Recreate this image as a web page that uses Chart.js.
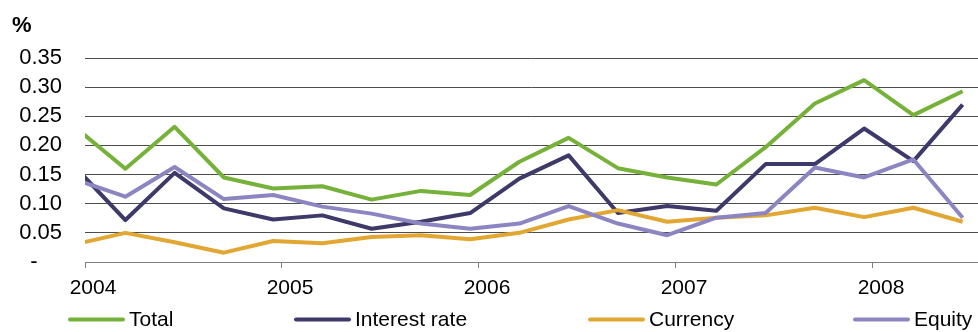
<!DOCTYPE html>
<html>
<head>
<meta charset="utf-8">
<script src="https://cdn.jsdelivr.net/npm/chart.js@4/dist/chart.umd.min.js"></script>
<style>
  html, body { margin: 0; padding: 0; background: #ffffff; }
  #wrap { width: 978px; height: 332px; }
</style>
</head>
<body>
<div id="wrap"><canvas id="c" width="978" height="332"></canvas></div>
<script>
// ---- data ----
const unitLabel = '%';
// quarterly observations, positioned in decimal years on the time axis
const periods = [2003.955, 2004.205, 2004.455, 2004.705, 2004.955, 2005.205, 2005.455, 2005.705,
                 2005.955, 2006.205, 2006.455, 2006.705, 2006.955, 2007.205, 2007.455, 2007.705,
                 2007.955, 2008.205, 2008.455];
const yearTicks = [2004, 2005, 2006, 2007, 2008];
const yTickValues = [0, 0.05, 0.10, 0.15, 0.20, 0.25, 0.30, 0.35];
const seriesNames = ['Total', 'Interest rate', 'Currency', 'Equity'];
const total    = [0.230, 0.160, 0.232, 0.145, 0.126, 0.130, 0.107, 0.122, 0.115, 0.172, 0.213, 0.161, 0.145, 0.133, 0.197, 0.272, 0.312, 0.252, 0.293];
const interest = [0.161, 0.072, 0.153, 0.092, 0.073, 0.080, 0.057, 0.069, 0.084, 0.143, 0.183, 0.084, 0.096, 0.088, 0.168, 0.168, 0.229, 0.173, 0.270];
const currency = [0.031, 0.050, 0.034, 0.016, 0.036, 0.032, 0.043, 0.046, 0.039, 0.050, 0.073, 0.089, 0.069, 0.076, 0.080, 0.093, 0.077, 0.093, 0.069];
const equity   = [0.141, 0.112, 0.163, 0.108, 0.115, 0.095, 0.083, 0.066, 0.057, 0.066, 0.096, 0.066, 0.046, 0.076, 0.084, 0.162, 0.145, 0.176, 0.076];

// ---- styling ----
const colors = ['#76b13a', '#3d3968', '#e2a733', '#8b86c1'];
const legendX = [68, 294, 588, 853];
const FONT = '"Liberation Sans", Arial, sans-serif';

function pts(vals) { return vals.map((v, i) => ({ x: periods[i], y: v })); }
const seriesValues = [total, interest, currency, equity];

const datasets = seriesNames.map((name, i) => ({
  label: name,
  data: pts(seriesValues[i]),
  borderColor: colors[i],
  backgroundColor: colors[i],
  borderWidth: 4,
  pointRadius: 0,
  tension: 0,
  borderJoinStyle: 'round',
  fill: false,
  clip: 0,
  order: seriesNames.length - i
}));

const overlay = {
  id: 'overlay',
  afterDraw(chart) {
    const ctx = chart.ctx;
    ctx.save();
    ctx.fillStyle = '#000';
    ctx.textBaseline = 'middle';
    ctx.textAlign = 'left';
    ctx.font = 'bold 22px ' + FONT;
    ctx.fillText(unitLabel, 12, 26);
    // legend
    ctx.font = '21px ' + FONT;
    const y = 320;
    chart.data.datasets.forEach((ds, i) => {
      const x = legendX[i];
      ctx.strokeStyle = ds.borderColor;
      ctx.lineWidth = 4;
      ctx.lineCap = 'round';
      ctx.beginPath();
      ctx.moveTo(x + 2, y - 0.5);
      ctx.lineTo(x + 55, y - 0.5);
      ctx.stroke();
      ctx.fillText(ds.label, x + 61, y);
    });
    ctx.restore();
  }
};

new Chart(document.getElementById('c'), {
  type: 'line',
  data: { datasets },
  options: {
    responsive: false,
    animation: false,
    devicePixelRatio: 1,
    layout: { padding: { top: 58, left: 0, right: 0, bottom: 0 } },
    plugins: { legend: { display: false }, tooltip: { enabled: false } },
    scales: {
      x: {
        type: 'linear',
        min: 2004,
        max: 2008.533,
        afterBuildTicks: s => { s.ticks = yearTicks.map(v => ({ value: v })); },
        afterFit: s => { s.height = 70; },
        grid: { drawOnChartArea: false, drawTicks: true, tickLength: 6, color: '#808080', lineWidth: 1 },
        border: { display: true, color: '#808080', width: 1 },
        ticks: {
          color: '#000',
          font: { family: FONT, size: 21 },
          padding: 8,
          labelOffset: 8,
          maxRotation: 0,
          autoSkip: false,
          callback: v => String(v)
        }
      },
      y: {
        min: 0,
        max: 0.35,
        afterBuildTicks: s => { s.ticks = yTickValues.map(v => ({ value: v })); },
        afterFit: s => { s.width = 85; },
        grid: {
          drawTicks: false,
          color: c => (c.tick && c.tick.value === 0) ? '#808080' : '#4d4d4d',
          lineWidth: 1
        },
        border: { display: false },
        ticks: {
          color: '#000',
          font: { family: FONT, size: 22 },
          padding: 23,
          autoSkip: false,
          callback: v => v === 0 ? '-    ' : v.toFixed(2)
        }
      }
    }
  },
  plugins: [overlay]
});
</script>
</body>
</html>
